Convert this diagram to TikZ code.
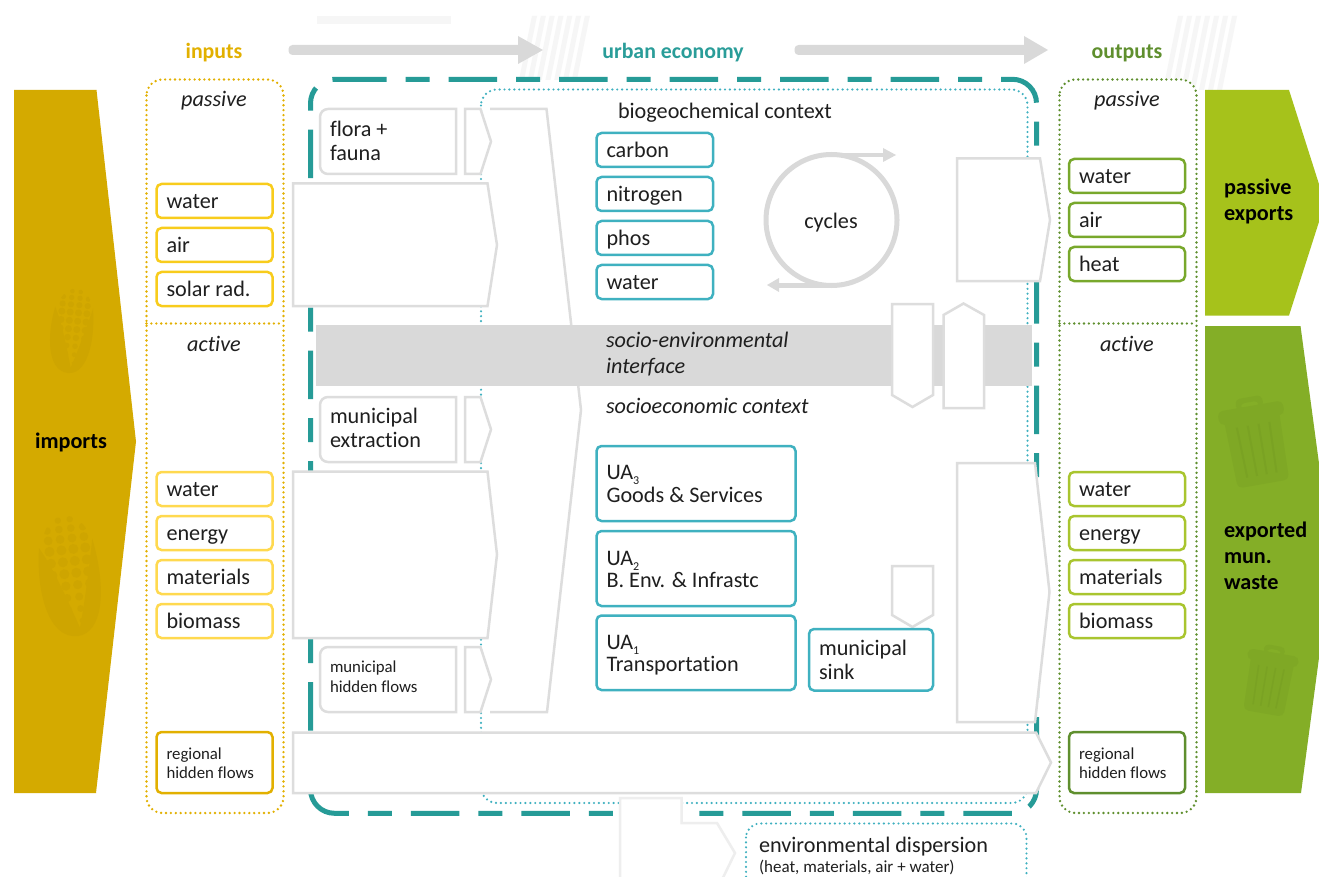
\documentclass[tikz,border=0pt]{standalone}
\usepackage{fontspec}
\setmainfont[Ligatures=NoCommon]{Carlito}
\newcommand{\fsN}{\fontsize{22.2}{24}\selectfont}
\newcommand{\fsS}{\fontsize{16.8}{19.7}\selectfont}
\newcommand{\fsH}{\fontsize{21.8}{26}\selectfont\bfseries}
\newcommand{\vstrut}{\vrule height .79\baselineskip depth .14\baselineskip width 0pt\relax}
\definecolor{gold}{HTML}{D4AA00}
\definecolor{goldline}{HTML}{E2B000}
\definecolor{yelA}{HTML}{F8CC1C}
\definecolor{yelB}{HTML}{FFD94F}
\definecolor{teal}{HTML}{269B97}
\definecolor{tealH}{HTML}{2A9D99}
\definecolor{cyanL}{HTML}{3FB1C0}
\definecolor{grayL}{HTML}{DDDDDD}
\definecolor{grayB}{HTML}{D9D9D9}
\definecolor{grayF}{HTML}{F6F6F6}
\definecolor{grayE}{HTML}{EEEEEE}
\definecolor{grnD}{HTML}{5F8F2E}
\definecolor{grnM}{HTML}{78A82C}
\definecolor{grnL}{HTML}{A9C52F}
\definecolor{grnP}{HTML}{A6C21B}
\definecolor{grnX}{HTML}{84AE27}
\definecolor{grnXd}{HTML}{7FA825}
\definecolor{grnXs}{HTML}{7AA223}
\definecolor{cornD}{HTML}{CEA500}
\tikzset{
  x=1pt,y=-1pt,
  struts/.style={execute at begin node=\vstrut,execute at end node=\vstrut},
  lab/.style={inner sep=0pt,outer sep=0pt,anchor=west,align=left,font=\fsN,text=black!88,struts},
  labc/.style={inner sep=0pt,outer sep=0pt,anchor=center,align=center,font=\fsN,text=black!88,struts},
  head/.style={inner sep=0pt,anchor=center,font=\fsH,struts},
  tagbox/.style={rounded corners=5pt,line width=2.5pt,fill=white,inner ysep=0pt,inner xsep=10pt,outer sep=0pt,align=flush left,font=\fsN,text=black!88,anchor=north west,struts},
  dotline/.style={line width=2.6pt,line cap=round,dash pattern=on 0pt off 4.9pt},
  flow/.style={draw=grayL,line width=2.5pt,fill=white,line join=miter},
}
\newcommand{\tagn}[8][]{%
  \pgfmathsetmacro{\tagw}{#5-#3}\pgfmathsetmacro{\tagh}{#6-#4}\pgfmathsetmacro{\tagt}{#5-#3-20}%
  \node[tagbox,draw=#7,minimum width=\tagw pt,minimum height=\tagh pt,text width=\tagt pt,#1] (#2) at (#3,#4) {#8};}
% gray source box with two rounded corners on the left
\newcommand{\srcbox}[2]{%
  \draw[flow] (456,#1) [rounded corners=8pt] -- (320,#1) -- (320,#2) [sharp corners] -- (456,#2) -- cycle;}
% small arrow beside a source box
\newcommand{\smallarr}[2]{%
  \pgfmathsetmacro{\sm}{(#1+#2)/2}%
  \draw[flow] (465,#1) -- (480.5,#1) -- (491,\sm) -- (480.5,#2) -- (465,#2) -- cycle;}
\newcommand{\corn}[3]{%
  \begin{scope}[shift={(#1)},rotate=#2,scale=#3]
    \fill[cornD] (-28,-92) .. controls (-36,-50) and (-30,0) .. (0,0) .. controls (24,0) and (35,-40) .. (26,-95)
       .. controls (20,-68) and (10,-30) .. (3,-8) .. controls (-4,-30) and (-15,-68) .. (-28,-92) -- cycle;
    \begin{scope}
      \clip (-25,-85) .. controls (-25,-110) and (-12,-121) .. (0,-121) .. controls (12,-121) and (25,-110) .. (25,-85) -- (4,-4) -- (-4,-4) -- cycle;
      \foreach \rowy/\rad in {-117/3.2,-108/3.8,-98/4.4,-87/5,-75/5,-63/5,-51/4.6,-39/4,-27/3.4,-15/2.6}{
        \foreach \colx in {-18,-6,6,18}{
          \fill[cornD] (\colx,\rowy) circle[radius=\rad];
        }}
    \end{scope}
  \end{scope}}
\newcommand{\trashcan}[3]{%
  \begin{scope}[shift={(#1)},rotate=#2,scale=#3]
    \fill[grnXd,rounded corners=5pt] (-33,-7) rectangle (33,7);
    \fill[grnXd,rounded corners=5pt] (-28,0) -- (28,0) -- (26,72) -- (-26,72) -- cycle;
    \fill[grnXd,rounded corners=4pt,even odd rule] (-14,-5) -- (-13,-16) -- (13,-16) -- (14,-5) -- cycle (-9,-5) -- (-9,-11) -- (9,-11) -- (9,-5) -- cycle;
    \foreach \sx in {-16.5,-5.5,5.5,16.5}{
      \draw[grnXs,line width=2pt*#3] (\sx,12) -- ({\sx*0.9},63);
    }
  \end{scope}}
\begin{document}
\begin{tikzpicture}
\useasboundingbox (0,0) rectangle (1319,877);
\clip (0,0) rectangle (1319,877);
\fill[white] (0,0) rectangle (1319,877);
% faint background decoration
\fill[grayF] (317,16) rectangle (451,24);
\foreach \i in {0,...,6}{
  \fill[grayF] ({532+8.8*\i},16) -- ({537+8.8*\i},16) -- ({524+8.8*\i},80) -- ({519+8.8*\i},80) -- cycle;
  \fill[grayF] ({1178+9*\i},16) -- ({1183+9*\i},16) -- ({1168+9*\i},90) -- ({1163+9*\i},90) -- cycle;
}
% top arrows
\fill[grayB,rounded corners=4pt] (288.5,45) -- (522,45) -- (522,55) -- (288.5,55) -- cycle;
\fill[grayB] (518,36) -- (543,50) -- (518,64) -- cycle;
\fill[grayB,rounded corners=4pt] (794.5,45) -- (1028,45) -- (1028,55) -- (794.5,55) -- cycle;
\fill[grayB] (1024,36) -- (1048,50) -- (1024,64) -- cycle;
\node[head,text=goldline] (inputs) at (214,50) {inputs};
\node[head,text=tealH] (urban) at (673,50) {urban economy};
\node[head,text=grnD] (outputs) at (1127,50) {outputs};
% side panels
\fill[gold] (14,90) -- (96.5,90) -- (136,441.5) -- (96,793) -- (14,793) -- cycle;
\corn{78,636}{7}{1}
\corn{68,373}{-6}{0.7}
\node[labc,font=\fsN\bfseries,text=black] (imports) at (71,441) {imports};
\fill[grnP] (1205,90) -- (1289,90) -- (1325,203) -- (1289,315.5) -- (1205,315.5) -- cycle;
\node[lab,font=\fsN\bfseries,text=black] (passexp) at (1224,201) {passive\\[2pt]exports};
\fill[grnX] (1205,326) -- (1300.5,326) -- (1332,560) -- (1301,793) -- (1205,793) -- cycle;
\trashcan{1251,413}{10}{1}
\trashcan{1273,658}{-10}{0.78}
\node[lab,font=\fsN\bfseries,text=black] (expwaste) at (1224,557) {exported\\[2pt]mun.\\[2pt]waste};
% input / output dotted panels
\draw[dotline,draw=goldline,fill=white,rounded corners=16pt] (146.5,79.5) rectangle (283.5,813);
\draw[dotline,draw=goldline] (146.5,323.5) -- (283.5,323.5);
\draw[dotline,draw=grnD,fill=white,rounded corners=16pt] (1059.5,79.5) rectangle (1196.5,813);
\draw[dotline,draw=grnD] (1059.5,323.5) -- (1196.5,323.5);
\node[labc,font=\fsN\itshape] (pasL) at (214,99) {passive};
\node[labc,font=\fsN\itshape] (actL) at (214,344) {active};
\node[labc,font=\fsN\itshape] (pasR) at (1127,99) {passive};
\node[labc,font=\fsN\itshape] (actR) at (1127,344) {active};
% input tags
\tagn{iw}{156.5}{184}{272.5}{218}{yelA}{water}
\tagn{ia}{156.5}{228}{272.5}{262}{yelA}{air}
\tagn{is}{156.5}{272}{272.5}{306}{yelA}{solar rad.}
\tagn{jw}{156.5}{472}{272.5}{506}{yelB}{water}
\tagn{je}{156.5}{516}{272.5}{550}{yelB}{energy}
\tagn{jm}{156.5}{560}{272.5}{594}{yelB}{materials}
\tagn{jb}{156.5}{604}{272.5}{638}{yelB}{biomass}
\tagn[font=\fsS]{ir}{156.5}{732}{272.5}{793}{goldline}{regional\\hidden flows}
% output tags
\tagn{ow}{1069}{159}{1185}{193}{grnM}{water}
\tagn{oa}{1069}{203}{1185}{237}{grnM}{air}
\tagn{oh}{1069}{247}{1185}{281}{grnM}{heat}
\tagn{pw}{1069}{472}{1185}{506}{grnL}{water}
\tagn{pe}{1069}{516}{1185}{550}{grnL}{energy}
\tagn{pm}{1069}{560}{1185}{594}{grnL}{materials}
\tagn{pb}{1069}{604}{1185}{638}{grnL}{biomass}
\tagn[font=\fsS]{or}{1069}{732}{1185}{793}{grnD}{regional\\hidden flows}
% urban economy boundary and inner context
\draw[teal,line width=5pt,dash pattern=on 48.5pt off 19pt on 24pt off 19pt,rounded corners=24pt]
  (338,79.3) -- (1036.5,79.3) -- (1036.5,813.3) -- (310.5,813.3) -- (310.5,79.3) -- (338,79.3);
\draw[dotline,line width=2.4pt,draw=cyanL,rounded corners=16pt] (481,89.5) rectangle (1027.5,803);
% central arrow
\draw[flow] (490,109) -- (546.5,109) -- (581,410) -- (547,712) -- (490,712);
% socio-environmental band
\fill[grayB] (316,325) rectangle (1032,386);
% left flows
\srcbox{109}{174}
\node[lab] (floraT) at (330,142) {flora +\\fauna};
\smallarr{109}{174}
\draw[flow] (293,183.5) -- (487.5,183.5) -- (497,245) -- (487.5,306) -- (293,306) -- cycle;
\srcbox{397}{462}
\node[lab] (mextT) at (330,429) {municipal\\extraction};
\smallarr{397}{462}
\draw[flow] (293,471.5) -- (487.5,471.5) -- (497,554.5) -- (487.5,638) -- (293,638) -- cycle;
\srcbox{647}{712}
\node[lab,font=\fsS] (mhidT) at (330,678) {municipal\\hidden flows};
\smallarr{647}{712}
% right flows
\draw[flow] (957,158.5) -- (1040,158.5) -- (1050,220) -- (1040,281) -- (957,281) -- cycle;
\draw[flow] (957,463) -- (1035,463) -- (1049.5,592) -- (1035,722) -- (957,722) -- cycle;
\draw[flow] (293,732.5) -- (1036,732.5) -- (1051,762.5) -- (1036,793) -- (293,793) -- cycle;
% interface arrows
\draw[flow] (892,304) -- (933,304) -- (933,395) -- (912.5,407) -- (892,395) -- cycle;
\draw[flow] (943.5,408) -- (984,408) -- (984,315) -- (963.5,303.5) -- (943.5,315) -- cycle;
\draw[flow] (892,566) -- (933,566) -- (933,615) -- (912.5,627) -- (892,615) -- cycle;
% context text
\node[lab] (bio) at (618,111) {biogeochemical context};
\node[lab,font=\fsN\itshape] (socenv) at (606,354) {socio-environmental\\[2pt]interface};
\node[lab,font=\fsN\itshape] (soceco) at (606,406) {socioeconomic context};
% cycles
\draw[grayB,line width=5pt] (831.5,220) circle[radius=65.5];
\fill[grayB] (831,153) rectangle (885,157.5);
\fill[grayB] (883,148) -- (896,155) -- (883,162) -- cycle;
\fill[grayB] (779,283) rectangle (831,287.5);
\fill[grayB] (779,278) -- (767,285) -- (779,292) -- cycle;
\node[labc] (cyc) at (831,221) {cycles};
% nutrient tags
\tagn{nc}{596.5}{133}{713}{167}{cyanL}{carbon}
\tagn{nn}{596.5}{177}{713}{211}{cyanL}{nitrogen}
\tagn{np}{596.5}{221}{713}{255}{cyanL}{phos}
\tagn{nw}{596.5}{265}{713}{299}{cyanL}{water}
% urban activity tags
\tagn{ua3}{596.5}{446}{795.5}{521}{cyanL}{UA\raisebox{-5pt}{\fontsize{12}{12}\selectfont 3}\\[-2pt]Goods \& Services}
\tagn{ua2}{596.5}{531}{795.5}{606}{cyanL}{UA\raisebox{-5pt}{\fontsize{12}{12}\selectfont 2}\\[-2pt]B. Env. \& Infrastc}
\tagn{ua1}{596.5}{615.5}{795.5}{690}{cyanL}{UA\raisebox{-5pt}{\fontsize{12}{12}\selectfont 1}\\[-2pt]Transportation}
\tagn{sink}{809}{629}{933}{690.5}{cyanL}{municipal\\sink}
% environmental dispersion
\draw[grayE,line width=2.5pt,fill=white] (620,890) -- (620,798) -- (681.5,798) -- (681.5,823) -- (717,823) -- (735,853) -- (717,890);
\draw[dotline,line width=2.4pt,draw=cyanL,rounded corners=14pt] (746,823.5) rectangle (1026.5,900);
\node[lab] (env) at (759,845) {environmental dispersion};
\node[lab,font=\fontsize{17}{19}\selectfont] (envs) at (759,866) {(heat, materials, air + water)};
\end{tikzpicture}
\end{document}
